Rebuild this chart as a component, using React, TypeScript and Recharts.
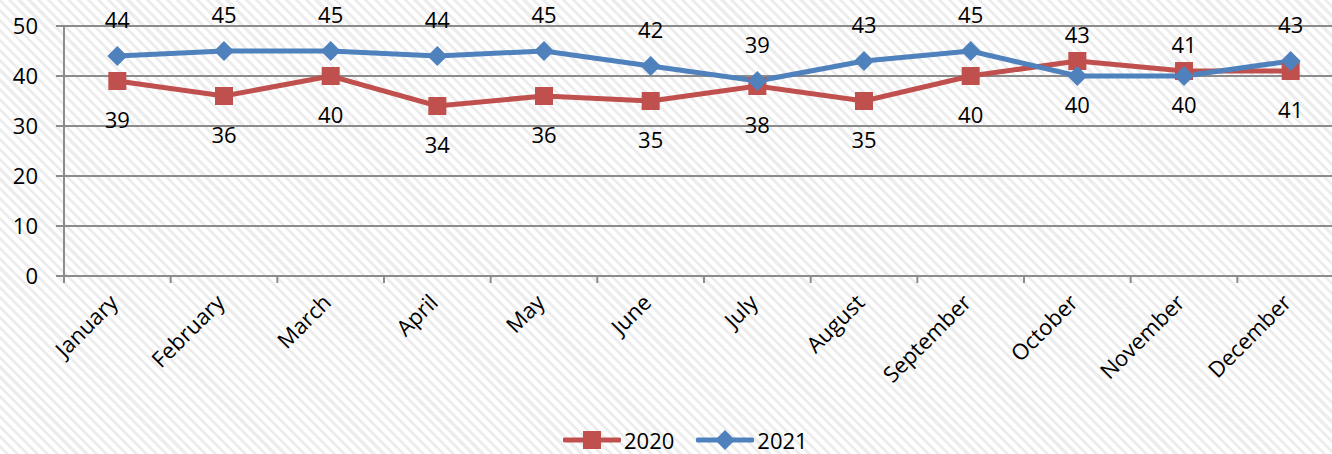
import React from 'react';
import { LineChart, Line, XAxis, YAxis, CartesianGrid } from 'recharts';

const months = ['January', 'February', 'March', 'April', 'May', 'June', 'July', 'August', 'September', 'October', 'November', 'December'];
const values2020 = [39, 36, 40, 34, 36, 35, 38, 35, 40, 43, 41, 41];
const values2021 = [44, 45, 45, 44, 45, 42, 39, 43, 45, 40, 40, 43];
const yTicks = [0, 10, 20, 30, 40, 50];

const RED = '#C0504D';
const BLUE = '#4F81BD';
const GRID = '#8c8c8c';
const FONT = '"Open Sans", sans-serif';
const FS = 22;

const data = months.map((m, i) => ({ pos: i + 0.5, month: m, y2020: values2020[i], y2021: values2021[i] }));
const boundaryTicks = months.map((_, i) => i).concat([months.length]);
const centerTicks = months.map((_, i) => i + 0.5);

const SquareDot = (props: any) => {
  const { cx, cy } = props;
  if (cx == null || cy == null) return null;
  return <rect x={cx - 9} y={cy - 9} width={18} height={18} fill={RED} />;
};
const DiamondDot = (props: any) => {
  const { cx, cy } = props;
  if (cx == null || cy == null) return null;
  const r = 10;
  return <polygon points={`${cx},${cy - r} ${cx + r},${cy} ${cx},${cy + r} ${cx - r},${cy}`} fill={BLUE} />;
};

const makeLabel = (own: number[], other: number[], aboveDy: number, belowDy: number) => (props: any) => {
  const { x, y, value, index } = props;
  const above = own[index] >= other[index];
  return (
    <text x={x} y={y + (above ? aboveDy : belowDy)} textAnchor="middle" fontSize={FS} fontFamily={FONT} fill="#000">
      {value}
    </text>
  );
};

const MonthTick = (props: any) => {
  const { x, y, payload } = props;
  const idx = Math.floor(payload.value);
  const ax = x + 2;
  const ay = y + 12;
  return (
    <text x={ax} y={ay} transform={`rotate(-45, ${ax}, ${ay})`} textAnchor="end" fontSize={FS} fontFamily={FONT} fill="#000">
      {months[idx]}
    </text>
  );
};

const LegendBox = () => (
  <div
    style={{
      position: 'absolute',
      left: 563,
      top: 428,
      display: 'flex',
      alignItems: 'center',
      fontFamily: FONT,
      fontSize: FS,
      lineHeight: '24px',
      color: '#000',
    }}
  >
    <svg width={58} height={24}>
      <line x1={2} y1={12} x2={56} y2={12} stroke={RED} strokeWidth={5} strokeLinecap="round" />
      <rect x={20} y={3} width={18} height={18} fill={RED} />
    </svg>
    <span style={{ marginLeft: 3 }}>2020</span>
    <svg width={58} height={24} style={{ marginLeft: 22 }}>
      <line x1={2} y1={12} x2={56} y2={12} stroke={BLUE} strokeWidth={5} strokeLinecap="round" />
      <polygon points="29,2 39,12 29,22 19,12" fill={BLUE} />
    </svg>
    <span style={{ marginLeft: 3 }}>2021</span>
  </div>
);

export default function App() {
  return (
    <div
      style={{
        position: 'absolute',
        left: 0,
        top: 0,
        width: 1332,
        height: 454,
        overflow: 'hidden',
        fontFamily: FONT,
        background: 'repeating-linear-gradient(45deg, #ffffff 0px, #ffffff 4px, #ededed 4px, #ededed 7px)',
      }}
    >
      <LineChart width={1344} height={454} data={data} margin={{ top: 26, right: 0, left: 0, bottom: 0 }}>
        <CartesianGrid vertical={false} stroke={GRID} strokeWidth={2} />
        <XAxis
          dataKey="pos"
          type="number"
          domain={[0, months.length]}
          ticks={boundaryTicks}
          tickFormatter={() => ''}
          height={8}
          tickSize={7}
          axisLine={{ stroke: GRID, strokeWidth: 2 }}
          tickLine={{ stroke: GRID, strokeWidth: 2 }}
          allowDataOverflow
        />
        <XAxis
          xAxisId="labels"
          dataKey="pos"
          type="number"
          domain={[0, months.length]}
          ticks={centerTicks}
          height={170}
          tickSize={0}
          tickMargin={8}
          axisLine={false}
          tickLine={false}
          tick={<MonthTick />}
          interval={0}
          allowDataOverflow
        />
        <YAxis
          domain={[0, 50]}
          ticks={yTicks}
          width={64}
          tickSize={8}
          tickMargin={18}
          axisLine={{ stroke: GRID, strokeWidth: 2 }}
          tickLine={{ stroke: GRID, strokeWidth: 2 }}
          tick={{ fill: '#000', fontSize: FS, fontFamily: FONT }}
          interval={0}
        />
        <Line
          dataKey="y2020"
          stroke={RED}
          strokeWidth={5}
          dot={<SquareDot />}
          activeDot={false}
          isAnimationActive={false}
          label={makeLabel(values2020, values2021, -18, 47)}
        />
        <Line
          dataKey="y2021"
          stroke={BLUE}
          strokeWidth={5}
          dot={<DiamondDot />}
          activeDot={false}
          isAnimationActive={false}
          label={makeLabel(values2021, values2020, -28, 37)}
        />
      </LineChart>
      <LegendBox />
    </div>
  );
}
